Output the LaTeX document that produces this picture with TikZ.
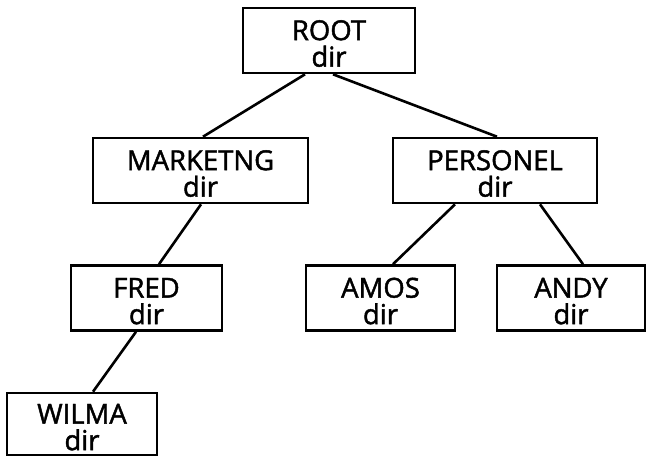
\documentclass[tikz,border=0pt]{standalone}
\usepackage{fontspec}
\newfontfamily\dirfont{Open Sans}[FakeBold=1.6]
\newcommand\dirtext[1]{\rule{0pt}{26pt}#1\\dir}
\begin{document}
\begin{tikzpicture}[x=1pt,y=-1pt,
  dirbox/.style={draw,line width=2.6pt,rectangle,align=center,inner sep=0pt,
    minimum height=65,font=\dirfont\fontsize{27.5}{26.5}\selectfont},
  link/.style={line width=2.6pt}]
\useasboundingbox (0,0) rectangle (648,456);
% directory boxes
\node[dirbox,minimum width=172] (root) at (329,40.5) {\dirtext{ROOT}};
\node[dirbox,minimum width=215] (marketng) at (200.5,170.5) {\dirtext{MARKETNG}};
\node[dirbox,minimum width=204] (personel) at (495,170.5) {\dirtext{PERSONEL}};
\node[dirbox,minimum width=151] (fred) at (146.5,298) {\dirtext{FRED}};
\node[dirbox,minimum width=149] (amos) at (380.5,298) {\dirtext{AMOS}};
\node[dirbox,minimum width=148] (andy) at (571,298) {\dirtext{ANDY}};
\node[dirbox,minimum width=150,minimum height=62] (wilma) at (82,424) {\dirtext{WILMA}};
% links
\draw[link] ([xshift=-24pt]root.south) -- ([xshift=2.5pt]marketng.north);
\draw[link] ([xshift=4pt]root.south) -- ([xshift=2pt]personel.north);
\draw[link] ([xshift=0.5pt]marketng.south) -- ([xshift=12.5pt]fred.north);
\draw[link] ([xshift=-40pt]personel.south) -- ([xshift=12.5pt]amos.north);
\draw[link] ([xshift=45pt]personel.south) -- ([xshift=12pt]andy.north);
\draw[link] ([xshift=-10.5pt]fred.south) -- ([xshift=11pt]wilma.north);
\end{tikzpicture}
\end{document}
